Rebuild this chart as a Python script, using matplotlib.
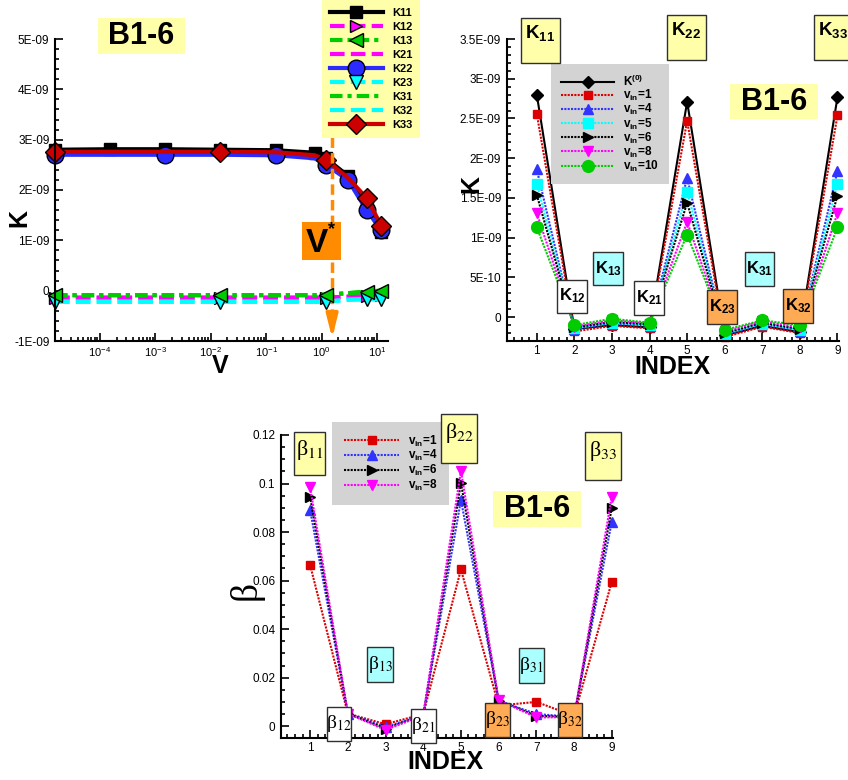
import numpy as np
import matplotlib
matplotlib.use('Agg')
import matplotlib.pyplot as plt
from matplotlib.patches import Rectangle
from matplotlib.ticker import MultipleLocator, FuncFormatter, LogLocator, NullFormatter

plt.rcParams['font.family'] = ['Liberation Sans', 'DejaVu Sans']
plt.rcParams['mathtext.fontset'] = 'custom'
plt.rcParams['mathtext.rm'] = 'Liberation Sans'
plt.rcParams['mathtext.bf'] = 'Liberation Sans:bold'
plt.rcParams['mathtext.it'] = 'Liberation Sans:italic'
plt.rcParams['axes.unicode_minus'] = False

# ---- data: K vs V (top left), values in 1E-09 ----
V = [1.55e-5, 1.5e-4, 1.5e-3, 1.5e-2, 0.15, 0.75, 1.2, 3.0, 6.5, 12.0]
K11 = [2.80, 2.81, 2.81, 2.80, 2.79, 2.74, 2.63, 2.28, 1.68, 1.16]
K12 = [-0.14, -0.14, -0.14, -0.14, -0.14, -0.14, -0.14, -0.12, -0.10, -0.09]
K13 = [-0.09, -0.09, -0.09, -0.09, -0.09, -0.09, -0.08, -0.05, -0.02, 0.00]
K21 = [-0.14, -0.14, -0.14, -0.14, -0.14, -0.14, -0.14, -0.12, -0.10, -0.09]
K22 = [2.70, 2.70, 2.70, 2.70, 2.69, 2.63, 2.50, 2.20, 1.60, 1.20]
K23 = [-0.22, -0.22, -0.22, -0.22, -0.22, -0.22, -0.22, -0.18, -0.17, -0.17]
K31 = [-0.09, -0.09, -0.09, -0.09, -0.09, -0.09, -0.08, -0.05, -0.02, 0.00]
K32 = [-0.22, -0.22, -0.22, -0.22, -0.22, -0.22, -0.22, -0.18, -0.17, -0.17]
K33 = [2.76, 2.76, 2.76, 2.76, 2.75, 2.69, 2.60, 2.24, 1.84, 1.29]
V_STAR = 1.55

# ---- data: K vs INDEX (top right), values in 1E-09 ----
INDEX = [1, 2, 3, 4, 5, 6, 7, 8, 9]
K0 = [2.80, -0.15, -0.10, -0.13, 2.71, -0.23, -0.11, -0.19, 2.77]
KV1 = [2.56, -0.18, -0.11, -0.14, 2.47, -0.25, -0.12, -0.20, 2.54]
KV4 = [1.86, -0.15, -0.08, -0.11, 1.75, -0.22, -0.09, -0.17, 1.84]
KV5 = [1.68, -0.14, -0.07, -0.10, 1.58, -0.21, -0.08, -0.16, 1.68]
KV6 = [1.54, -0.13, -0.06, -0.09, 1.44, -0.20, -0.07, -0.15, 1.53]
KV8 = [1.31, -0.12, -0.04, -0.08, 1.20, -0.18, -0.05, -0.13, 1.31]
KV10 = [1.13, -0.10, -0.02, -0.07, 1.04, -0.16, -0.04, -0.10, 1.13]

# ---- data: beta vs INDEX (bottom) ----
B1 = [0.0664, 0.0052, 0.0008, 0.0050, 0.0646, 0.0085, 0.0100, 0.0042, 0.0595]
B4 = [0.0891, 0.0052, -0.0003, 0.0045, 0.0932, 0.0105, 0.0050, 0.0038, 0.0843]
B6 = [0.0946, 0.0052, -0.0010, 0.0045, 0.1003, 0.0105, 0.0042, 0.0038, 0.0900]
B8 = [0.0984, 0.0052, -0.0016, 0.0045, 0.1053, 0.0107, 0.0036, 0.0037, 0.0946]

YELLOW = '#ffffaa'
CYANBOX = '#aaffff'
ORANGEBOX = '#ffaa55'
LEGGRAY = '#d3d3d3'

W, H = 848, 780
fig = plt.figure(figsize=(W / 100, H / 100), dpi=100)


def px_axes(x0, y0, x1, y1):
    return fig.add_axes([x0 / W, 1 - y1 / H, (x1 - x0) / W, (y1 - y0) / H])


def box(x0, y0, x1, y1, fc, ec='#303030', lw=1.0):
    fig.add_artist(Rectangle((x0 / W, 1 - y1 / H), (x1 - x0) / W, (y1 - y0) / H,
                             transform=fig.transFigure, fc=fc, ec=ec, lw=lw, zorder=5))


def label(x, y, s, size, **kw):
    kw.setdefault('ha', 'center')
    kw.setdefault('va', 'center')
    fig.text(x / W, 1 - y / H, s, fontsize=size, zorder=6, **kw)


def style(ax):
    for side in ('top', 'right'):
        ax.spines[side].set_visible(False)
    for side in ('left', 'bottom'):
        ax.spines[side].set_linewidth(1.5)
    ax.tick_params(which='both', direction='in', width=1.2, labelsize=8.5, pad=4)
    ax.tick_params(axis='x', pad=3)
    ax.tick_params(which='major', length=6)
    ax.tick_params(which='minor', length=3)


def sci(v, pos):
    if abs(v) < 1e-15:
        return '0'
    m, e = f'{v:.1E}'.split('E')
    if m.endswith('.0'):
        m = m[:-2]
    return m + 'E' + e


def vin(n):
    return r'v$_{\mathbf{in}}$=' + str(n)


# ================= top left: K vs V =================
ax1 = px_axes(55, 39, 388, 341)
style(ax1)
ax1.set_xscale('log')
sc = 1e-9
common = dict(lw=3, clip_on=False)
h = {}
h['K11'], = ax1.plot(V, np.array(K11) * sc, '-', color='k', marker='s', ms=8.5, mfc='k', mec='k', **common)
h['K22'], = ax1.plot(V, np.array(K22) * sc, '-', color='#2b2bff', marker='o', ms=12, mfc='#2b2bff', mec='k',
                     markevery=[0, 2, 4, 6, 7, 8, 9], **common)
h['K33'], = ax1.plot(V, np.array(K33) * sc, '-', color='#cc0000', marker='D', ms=10, mfc='#cc0000', mec='k',
                     markevery=[0, 3, 6, 8, 9], **common)
dash = (0, (3.5, 1.5))
dashdot = (0, (3.0, 1.2, 1.0, 1.2))
h['K12'], = ax1.plot(V, np.array(K12) * sc, ls=dash, color='#ff00ff', marker='>', ms=9, mfc='#ff00ff', mec='k',
                     markevery=[0, 3, 6, 8, 9], zorder=1.5, **common)
h['K21'], = ax1.plot(V, np.array(K21) * sc, ls=dash, color='#ff00ff', zorder=1.5, **common)
h['K32'], = ax1.plot(V, np.array(K32) * sc, ls=dash, color='#00ffff', zorder=1.8, **common)
h['K23'], = ax1.plot(V, np.array(K23) * sc, ls=dash, color='#00ffff', marker='v', ms=10, mfc='#00ffff', mec='k',
                     markevery=[0, 3, 6, 8, 9], zorder=1.9, **common)
h['K31'], = ax1.plot(V, np.array(K31) * sc, ls=dashdot, color='#00cc00', zorder=2.0, **common)
h['K13'], = ax1.plot(V, np.array(K13) * sc, ls=dashdot, color='#00cc00', marker='<', ms=10, mfc='#00cc00', mec='k',
                     markevery=[0, 3, 6, 8, 9], zorder=2.1, **common)

ax1.set_xlim(V[0], 15.8)
ax1.set_ylim(-1e-9, 5e-9)
ax1.yaxis.set_major_locator(MultipleLocator(1e-9))
ax1.yaxis.set_minor_locator(MultipleLocator(2e-10))
ax1.yaxis.set_major_formatter(FuncFormatter(sci))
ax1.xaxis.set_major_locator(LogLocator(base=10, numticks=20))
ax1.xaxis.set_minor_locator(LogLocator(base=10, subs=np.arange(2, 10), numticks=20))
ax1.xaxis.set_minor_formatter(NullFormatter())
ax1.tick_params(axis='x', labelsize=8)

order = ['K11', 'K12', 'K13', 'K21', 'K22', 'K23', 'K31', 'K32', 'K33']
ax1.legend([h[k] for k in order], order, loc='upper left', bbox_to_anchor=(322 / W, 1.0),
           bbox_transform=fig.transFigure, facecolor=YELLOW, edgecolor='none', fancybox=False,
           framealpha=1, borderaxespad=0, borderpad=0.7, labelspacing=0.36, handlelength=4.8,
           handletextpad=0.8, prop={'weight': 'bold', 'size': 8})

# V* marker line with arrow
ax1.plot([V_STAR, V_STAR], [3.05e-9, -0.8e-9], ls=(0, (3, 1.5)), color='#ff8c00', lw=2.5, clip_on=False)
ax1.annotate('', xy=(V_STAR, -1e-9), xytext=(V_STAR, -0.45e-9),
             arrowprops=dict(arrowstyle='-|>,head_length=1.4,head_width=0.35', color='#ff8c00', lw=2.5),
             annotation_clip=False)

box(302, 222, 341, 260, '#ff8c00', ec='none')
label(317, 244, 'V', 24, weight='bold')
label(332, 230, '*', 13, weight='bold')
box(98, 18, 185, 54, YELLOW, ec='none')
label(141.5, 36.5, 'B1-6', 22, weight='bold')
label(19, 218, 'K', 18, weight='bold', rotation=90)
label(220, 366, 'V', 18, weight='bold')

# ================= top right: K vs INDEX =================
ax2 = px_axes(506.7, 39, 839, 341)
style(ax2)
ls_dot = (0, (1, 0.6))
series = [
    (r'K$^{\mathbf{(0)}}$', K0, 'k', 'D', '-', 6),
    (vin(1), KV1, '#dd0000', 's', ls_dot, 6),
    (vin(4), KV4, '#3333ff', '^', ls_dot, 7),
    (vin(5), KV5, '#00ffff', 's', ls_dot, 6.5),
    (vin(6), KV6, 'k', '>', ls_dot, 7),
    (vin(8), KV8, '#ff00ff', 'v', ls_dot, 7),
    (vin(10), KV10, '#00cc00', 'o', ls_dot, 8.5),
]
for name, vals, c, m, ls, ms in series:
    ax2.plot(INDEX, np.array(vals) * sc, ls=ls, color=c, lw=1.5, marker=m, ms=ms, mfc=c, mec=c,
             label=name, clip_on=False)
ax2.set_xlim(0.2, 9.04)
ax2.set_ylim(-3e-10, 3.5e-9)
ax2.xaxis.set_major_locator(MultipleLocator(1))
ax2.xaxis.set_minor_locator(MultipleLocator(0.2))
ax2.yaxis.set_major_locator(MultipleLocator(5e-10))
ax2.yaxis.set_minor_locator(MultipleLocator(1e-10))
ax2.yaxis.set_major_formatter(FuncFormatter(sci))
ax2.legend(loc='upper left', bbox_to_anchor=(551 / W, 1 - 64 / H), bbox_transform=fig.transFigure,
           facecolor=LEGGRAY, edgecolor='none', fancybox=False, framealpha=1, borderaxespad=0,
           borderpad=0.85, labelspacing=-0.085, handlelength=4.5, handletextpad=0.75,
           prop={'weight': 'bold', 'size': 8.5})

kb = 13.5
ks = 12
box(520.7, 18.3, 560, 63.3, YELLOW)
label(540, 33, r'$\mathbf{K}_{\mathbf{11}}$', kb)
box(666.7, 15, 706, 60, YELLOW)
label(686, 30, r'$\mathbf{K}_{\mathbf{22}}$', kb)
box(814, 15, 853, 60, YELLOW)
label(833, 30, r'$\mathbf{K}_{\mathbf{33}}$', kb)
box(557, 280, 586.7, 313, 'white')
label(572, 296, r'$\mathbf{K}_{\mathbf{12}}$', ks)
box(593, 252, 623, 285, CYANBOX)
label(608, 268.5, r'$\mathbf{K}_{\mathbf{13}}$', ks)
box(634, 281, 664, 315, 'white')
label(649, 298, r'$\mathbf{K}_{\mathbf{21}}$', ks)
box(707, 290, 737, 324, ORANGEBOX)
label(722, 307, r'$\mathbf{K}_{\mathbf{23}}$', ks)
box(745, 252, 774, 286, CYANBOX)
label(759.5, 269, r'$\mathbf{K}_{\mathbf{31}}$', ks)
box(783, 289, 813, 323, ORANGEBOX)
label(798, 306, r'$\mathbf{K}_{\mathbf{32}}$', ks)
box(730, 84, 818, 119, YELLOW, ec='none')
label(774, 101.5, 'B1-6', 22, weight='bold')
label(471, 184, 'K', 18, weight='bold', rotation=90)
label(672, 367, 'INDEX', 18, weight='bold')

# ================= bottom: beta vs INDEX =================
ax3 = px_axes(280.7, 435, 613.3, 738.3)
style(ax3)
bseries = [
    (vin(1), B1, '#dd0000', 's', 6),
    (vin(4), B4, '#3333ff', '^', 6.5),
    (vin(6), B6, 'k', '>', 6.5),
    (vin(8), B8, '#ff00ff', 'v', 7),
]
for name, vals, c, m, ms in bseries:
    ax3.plot(INDEX, vals, ls=ls_dot, color=c, lw=1.5, marker=m, ms=ms, mfc=c, mec=c,
             label=name, clip_on=False)
ax3.set_xlim(0.22, 9.04)
ax3.set_ylim(-0.005, 0.12)
ax3.xaxis.set_major_locator(MultipleLocator(1))
ax3.xaxis.set_minor_locator(MultipleLocator(0.2))
ax3.yaxis.set_major_locator(MultipleLocator(0.02))
ax3.yaxis.set_minor_locator(MultipleLocator(0.005))
ax3.yaxis.set_major_formatter(FuncFormatter(lambda v, p: '%g' % round(v, 4)))
ax3.legend(loc='upper left', bbox_to_anchor=(332 / W, 1 - 421.7 / H), bbox_transform=fig.transFigure,
           facecolor=LEGGRAY, edgecolor='none', fancybox=False, framealpha=1, borderaxespad=0,
           borderpad=1.0, labelspacing=-0.03, handlelength=4.7, handletextpad=0.7,
           prop={'weight': 'bold', 'size': 8.5})

bb = 16
bs = 14
st = dict(family='Liberation Serif', math_fontfamily='stix')
box(294, 431.7, 325, 475, YELLOW)
label(309.5, 450, r'β$_{11}$', bb, **st)
box(441, 414, 477, 462.7, YELLOW)
label(459, 433, r'β$_{22}$', bb, **st)
box(585, 431.7, 621, 480, YELLOW)
label(603, 451, r'β$_{33}$', bb, **st)
box(367, 647, 393, 682, CYANBOX)
label(380, 664.5, r'β$_{13}$', bs, **st)
box(519, 648, 544, 683, CYANBOX)
label(531.5, 665.5, r'β$_{31}$', bs, **st)
box(327, 707, 351, 741, 'white')
label(339, 724, r'β$_{12}$', bs, **st)
box(411, 709, 436, 743, 'white')
label(423.5, 726, r'β$_{21}$', bs, **st)
box(485, 703, 510, 737, ORANGEBOX)
label(497.5, 720, r'β$_{23}$', bs, **st)
box(558, 703, 582, 737, ORANGEBOX)
label(570, 720, r'β$_{32}$', bs, **st)
box(493, 490.7, 581, 527, YELLOW, ec='none')
label(537, 509, 'B1-6', 22, weight='bold')
label(246, 590, 'β', 27, rotation=90, family='Liberation Serif')
label(445, 762, 'INDEX', 18, weight='bold')

fig.savefig('out.png', dpi=100, facecolor='white')
